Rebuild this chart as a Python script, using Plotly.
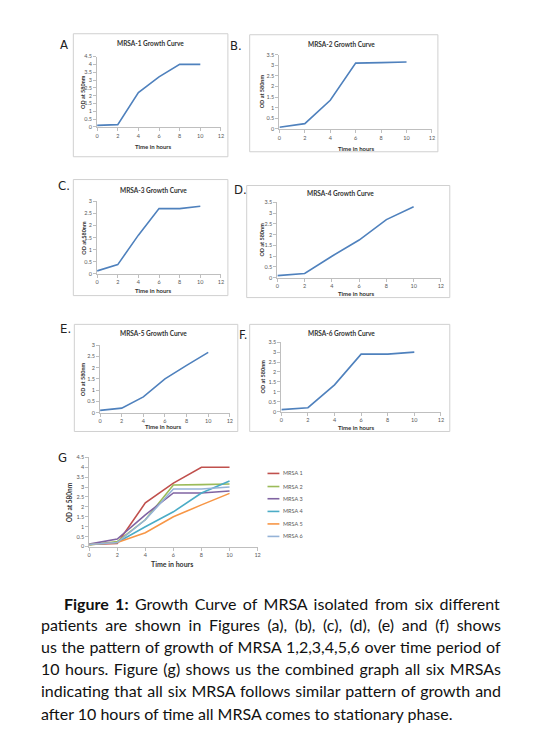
import json
import plotly.graph_objects as go

# ---------------- data ----------------
hours = [0, 2, 4, 6, 8, 10]
mrsa1 = [0.10, 0.15, 2.20, 3.20, 4.00, 4.00]
mrsa2 = [0.08, 0.25, 1.35, 3.10, 3.12, 3.15]
mrsa3 = [0.12, 0.38, 1.60, 2.70, 2.70, 2.80]
mrsa4 = [0.10, 0.20, 1.00, 1.75, 2.70, 3.30]
mrsa5 = [0.10, 0.20, 0.70, 1.50, 2.10, 2.68]
mrsa6 = [0.10, 0.20, 1.35, 2.90, 2.90, 3.00]
series_names = ["MRSA 1", "MRSA 2", "MRSA 3", "MRSA 4", "MRSA 5", "MRSA 6"]
panel_titles = ["MRSA-1 Growth Curve", "MRSA-2 Growth Curve", "MRSA-3 Growth Curve",
                "MRSA-4 Growth Curve", "MRSA-5 Growth Curve", "MRSA-6 Growth Curve"]
panel_letters = ["A", "B.", "C.", "D.", "E.", "F.", "G"]
x_ticks = [0, 2, 4, 6, 8, 10, 12]
y_max = [4.5, 3.5, 3, 3.5, 3, 3.5, 4.5]
x_title = "Time in hours"
y_title = "OD at 580nm"
caption_lines = [
    "<b>Figure 1:</b> Growth Curve of MRSA isolated from six different",
    "patients are shown in Figures (a), (b), (c), (d), (e) and (f) shows",
    "us the pattern of growth of MRSA 1,2,3,4,5,6 over time period of",
    "10 hours. Figure (g) shows us the combined graph all six MRSAs",
    "indicating that all six MRSA follows similar pattern of growth and",
    "after 10 hours of time all MRSA comes to stationary phase.",
]
all_series = [mrsa1, mrsa2, mrsa3, mrsa4, mrsa5, mrsa6]

# ---------------- styling / geometry ----------------
W, H = 537, 737
def fx(p): return p / W
def fy(p): return 1 - p / H

single_color = "#4F81BD"
combo_colors = ["#C0504D", "#9BBB59", "#8064A2", "#4BACC6", "#F79646", "#95B3D7"]
axis_gray = "#BFBFBF"
tick_gray = "#595959"
font_chart = "Lato, Calibri, sans-serif"
font_letter = "Liberation Sans Narrow, DejaVu Sans Condensed, Arial Narrow, sans-serif"

# plot areas (x0, x1, y0_top, y1_bottom) in pixels
areas = [(96, 221, 54, 125), (280, 434, 52, 127), (96, 221, 200, 273),
         (278, 443, 201, 277), (99, 230, 345, 413), (282, 443, 342, 412),
         (88, 258, 458, 548)]
boxes = [(72, 228, 31, 155), (250, 440, 32, 150), (72, 228, 178, 295),
         (247, 452, 184, 297), (73, 238, 324, 432), (250, 452, 324, 432)]
title_pos = [(150, 41), (343, 42), (153, 189), (342, 192), (153, 333), (343, 333)]
xtitle_pos = [(153, 145), (358, 147), (153, 290), (358, 293), (163, 427), (358, 428), (172, 566)]
ytitle_x = [82, 262, 82, 262, 82, 263, 69]
letter_pos = [(63, 42), (236, 43), (63, 184), (241, 188), (64, 328), (243, 334), (61, 458)]

fig = go.Figure()
layout = dict(width=W, height=H, margin=dict(l=0, r=0, t=0, b=0),
              paper_bgcolor="white", plot_bgcolor="white", showlegend=False)
annotations = []
shapes = []

def note(text, x, y, size, color="#333333", family=font_chart, xanchor="center", angle=0, align="center"):
    annotations.append(dict(text=text, x=fx(x), y=fy(y), xref="paper", yref="paper",
                            xanchor=xanchor, yanchor="middle", showarrow=False, textangle=angle,
                            align=align, font=dict(size=size, color=color, family=family)))

for i in range(7):
    n = i + 1
    xa = "xaxis" if n == 1 else f"xaxis{n}"
    ya = "yaxis" if n == 1 else f"yaxis{n}"
    xr = "x" if n == 1 else f"x{n}"
    yr = "y" if n == 1 else f"y{n}"
    x0, x1, yt, yb = areas[i]
    layout[xa] = dict(domain=[fx(x0), fx(x1)], anchor=yr, range=[0, 12], tickvals=x_ticks,
                      showline=True, linecolor=axis_gray, linewidth=1, ticks="outside",
                      ticklen=3, tickcolor=axis_gray, showgrid=False, zeroline=False,
                      tickfont=dict(size=5.5, color=tick_gray, family=font_chart))
    layout[ya] = dict(domain=[fy(yb), fy(yt)], anchor=xr, range=[0, y_max[i]], dtick=0.5,
                      showline=True, linecolor=axis_gray, linewidth=1, ticks="outside",
                      ticklen=3, tickcolor=axis_gray, showgrid=False, zeroline=False,
                      tickfont=dict(size=5.5, color=tick_gray, family=font_chart))
    if i < 6:
        fig.add_trace(go.Scatter(x=hours, y=all_series[i], mode="lines", xaxis=xr, yaxis=yr,
                                 line=dict(color=single_color, width=1.6)))
        bx0, bx1, by0, by1 = boxes[i]
        shapes.append(dict(type="rect", xref="paper", yref="paper",
                           x0=fx(bx0), x1=fx(bx1), y0=fy(by1), y1=fy(by0),
                           line=dict(color="#D0D0D0", width=1), layer="below"))
        tx, ty = title_pos[i]
        note("<b>" + panel_titles[i] + "</b>", tx, ty, 6.5)
    else:
        for k, s in enumerate(all_series):
            fig.add_trace(go.Scatter(x=hours, y=s, mode="lines", xaxis=xr, yaxis=yr,
                                     name=series_names[k],
                                     line=dict(color=combo_colors[k], width=1.6)))
    ax_, ay_ = xtitle_pos[i]
    note("<b>" + x_title + "</b>", ax_, ay_, 6 if i < 6 else 7)
    note("<b>" + y_title + "</b>", ytitle_x[i], (yt + yb) / 2, 5.5 if i < 6 else 6.5, angle=-90)
    lx, ly = letter_pos[i]
    note(panel_letters[i], lx, ly, 13, color="#222222", family=font_letter)

# legend for combined panel G
leg_y = [474.3, 487.5, 499.8, 512.6, 525.2, 537.8]
for k, name in enumerate(series_names):
    shapes.append(dict(type="line", xref="paper", yref="paper", x0=fx(268), x1=fx(280),
                       y0=fy(leg_y[k]), y1=fy(leg_y[k]), line=dict(color=combo_colors[k], width=1.6)))
    note(name, 282, leg_y[k], 5.5, color=tick_gray, xanchor="left", align="left")

# caption
cap_y = [605, 627, 649, 671, 693, 716]
cap_left = [61, 37, 37, 37, 37, 37]
cap_right = 497
for k, line in enumerate(caption_lines):
    note(line, cap_left[k], cap_y[k], 16, color="#111111", xanchor="left", align="left")

layout["annotations"] = annotations
layout["shapes"] = shapes
fig.update_layout(**layout)

# justify the caption lines (all except the last) to the right margin via word spacing
plain = [l.replace("<b>", "").replace("</b>", "") for l in caption_lines[:-1]]
targets = {p: cap_right - cap_left[k] for k, p in enumerate(plain)}
js = """
var gd = document.getElementById('{plot_id}');
var targets = %s;
gd.querySelectorAll('text.annotation-text').forEach(function(t){
  var s = t.textContent;
  if (!(s in targets)) return;
  var before = t.getBBox();
  var n = (s.match(/ /g) || []).length;
  var ws = (targets[s] - before.width) / n;
  t.style.wordSpacing = ws + 'px';
  var after = t.getBBox();
  var dx = before.x - after.x;
  if (Math.abs(dx) > 0.1) {
    var x0 = parseFloat(t.getAttribute('x') || '0');
    t.setAttribute('x', x0 + dx);
  }
});
""" % json.dumps(targets)

fig.write_html("out.html", config={"displayModeBar": False},
               post_script="document.body.style.margin='0';document.body.style.padding='0';" + js)
